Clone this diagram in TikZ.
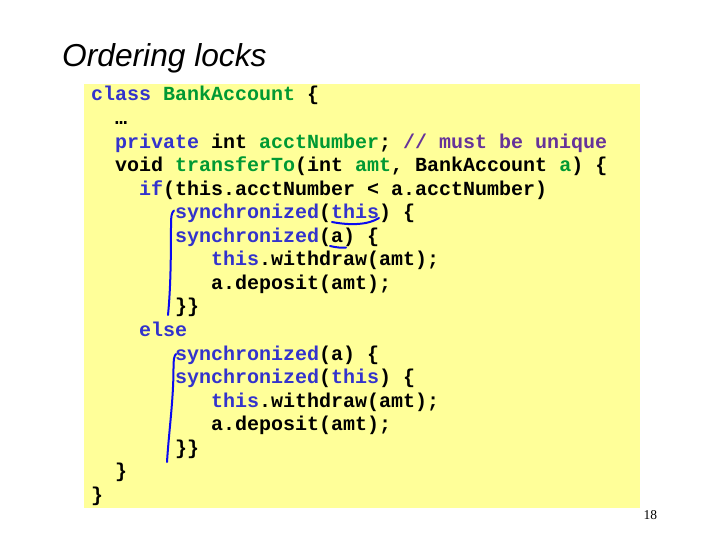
\documentclass[tikz,border=0pt]{standalone}
\usepackage{fontspec}
\setmainfont{Liberation Serif}
\newfontfamily\codefont{Liberation Mono}
\newfontfamily\titlefont{Liberation Sans}
\definecolor{kwblue}{RGB}{51,51,204}
\definecolor{idgreen}{RGB}{0,153,51}
\definecolor{cmpurple}{RGB}{102,51,153}
\definecolor{boxyellow}{RGB}{255,255,153}
\definecolor{inkblue}{RGB}{10,10,240}
\newcommand{\kb}[1]{\textcolor{kwblue}{#1}}
\newcommand{\ig}[1]{\textcolor{idgreen}{#1}}
\newcommand{\cp}[1]{\textcolor{cmpurple}{#1}}
\tikzset{
  codeline/.style={anchor=base west, inner sep=0pt, font=\codefont\bfseries\fontsize{20}{23.6}\selectfont},
  ink/.style={draw=inkblue, line width=2pt, line cap=round, line join=round},
}
\begin{document}
\begin{tikzpicture}[x=1pt,y=-1pt]
\useasboundingbox (0,0) rectangle (720,540);
\fill[boxyellow] (84,84) rectangle (640,508);
\node[anchor=base west, inner sep=0pt, font=\titlefont\itshape\fontsize{31.7}{36}\selectfont] (title) at (62,67) {Ordering locks};
\node[anchor=base west, inner sep=0pt, font=\fontsize{13.5}{15}\selectfont] (page) at (643.5,519) {18};
% code lines: x = 91 + 12*indent, baseline = 101 + 23.55*(k-1)
\node[codeline] (l1) at (91,101.0) {\kb{class} \ig{BankAccount} \{};
\node[codeline] (l2) at (115,124.55) {…};
\node[codeline] (l3) at (115,148.1) {\kb{private} int \ig{acctNumber}; \cp{// must be unique}};
\node[codeline] (l4) at (115,171.65) {void \ig{transferTo}(int \ig{amt}, BankAccount \ig{a}) \{};
\node[codeline] (l5) at (139,195.2) {\kb{if}(this.acctNumber < a.acctNumber)};
\node[codeline] (l6) at (175,218.75) {\kb{synchronized}(\kb{this}) \{};
\node[codeline] (l7) at (175,242.3) {\kb{synchronized}(a) \{};
\node[codeline] (l8) at (211,265.85) {\kb{this}.withdraw(amt);};
\node[codeline] (l9) at (211,289.4) {a.deposit(amt);};
\node[codeline] (l10) at (175,312.95) {\}\}};
\node[codeline] (l11) at (139,336.5) {\kb{else}};
\node[codeline] (l12) at (175,360.05) {\kb{synchronized}(a) \{};
\node[codeline] (l13) at (175,383.6) {\kb{synchronized}(\kb{this}) \{};
\node[codeline] (l14) at (211,407.15) {\kb{this}.withdraw(amt);};
\node[codeline] (l15) at (211,430.7) {a.deposit(amt);};
\node[codeline] (l16) at (175,454.25) {\}\}};
\node[codeline] (l17) at (115,477.8) {\}};
\node[codeline] (l18) at (91,501.35) {\}};
% hand-drawn annotations
\draw[ink] (174,210.5) .. controls (171.5,212.5) and (171,217) .. (171,224)
  .. controls (171,260) and (170.5,290) .. (168,315);
\draw[ink] (332,222) .. controls (350,225.5) and (368,225) .. (379,218);
\draw[ink] (330,246) .. controls (336,247.5) and (342,248) .. (346,247.5);
\draw[ink] (176,354) .. controls (174,356) and (173.5,360) .. (173.5,368)
  .. controls (173.5,400) and (169,430) .. (167,462);
\end{tikzpicture}
\end{document}
